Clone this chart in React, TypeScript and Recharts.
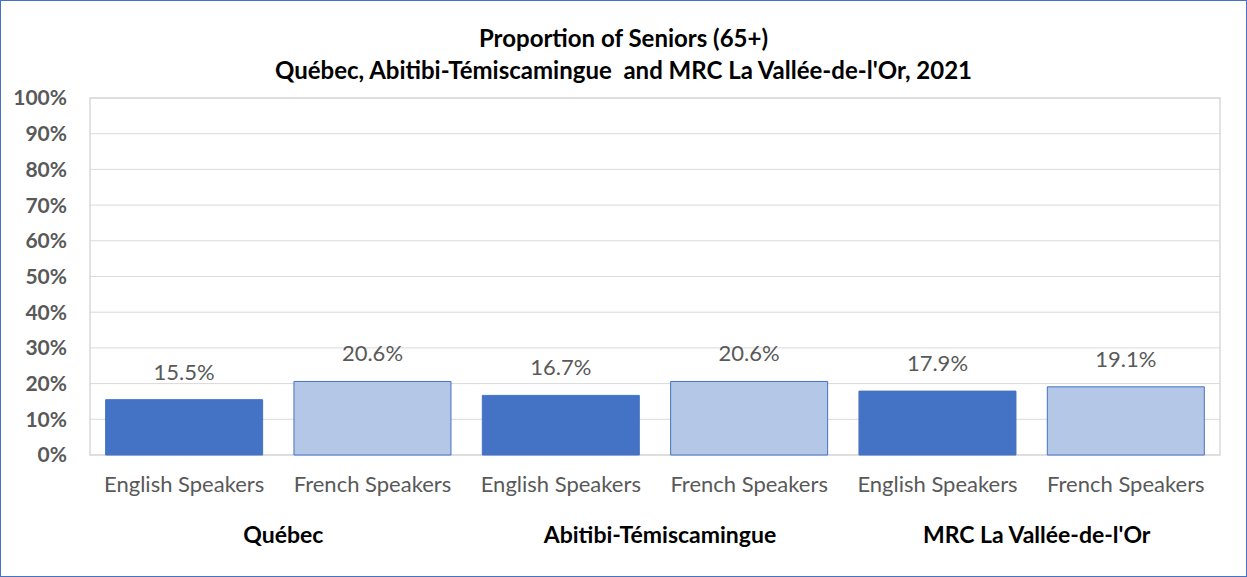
import { BarChart, Bar, XAxis, YAxis, CartesianGrid, Cell, LabelList, ReferenceArea } from 'recharts'

const regions = ['Québec', 'Abitibi-Témiscamingue', "MRC La Vallée-de-l'Or"]
const speakers = ['English Speakers', 'French Speakers']
const shares = [15.5, 20.6, 16.7, 20.6, 17.9, 19.1]
const yTicks = [0, 10, 20, 30, 40, 50, 60, 70, 80, 90, 100]

const data = shares.map((value, i) => ({
  id: i,
  speaker: speakers[i % 2],
  region: regions[Math.floor(i / 2)],
  value,
}))

const FONT = 'Lato, "Open Sans", sans-serif'
const DARK = '#4472C4'
const LIGHT = '#B4C7E7'

function GroupTick(props: any) {
  const { x, y, payload, index } = props
  if (index % 2 !== 0) return null
  return (
    <text
      x={x + (payload.offset ?? 0) + 5}
      y={y}
      dy="0.71em"
      textAnchor="middle"
      fontFamily={FONT}
      fontSize={23}
      fontWeight={700}
      fill="#000"
    >
      {payload.value}
    </text>
  )
}

export default function App() {
  return (
    <div
      style={{
        position: 'fixed',
        top: 0,
        left: 0,
        width: 1247,
        height: 577,
        boxSizing: 'border-box',
        border: `1px solid ${DARK}`,
        background: '#fff',
        fontFamily: FONT,
      }}
    >
      <div
        style={{
          position: 'absolute',
          top: 21,
          left: 0,
          width: 1245,
          textAlign: 'center',
          fontWeight: 700,
          fontSize: 24,
          lineHeight: '32px',
          color: '#000',
        }}
      >
        <div>Proportion of Seniors (65+)</div>
        <div>Québec, Abitibi-Témiscamingue&nbsp; and MRC La Vallée-de-l'Or, 2021</div>
      </div>
      <BarChart
        width={1245}
        height={575}
        data={data}
        margin={{ top: 97, right: 26, left: 0, bottom: 21 }}
        barCategoryGap="8.3%"
      >
        <CartesianGrid stroke="#d9d9d9" vertical={false} />
        <ReferenceArea y1={0} y2={100} fill="none" stroke="#d9d9d9" strokeWidth={1.5} />
        <XAxis
          dataKey="speaker"
          axisLine={false}
          tickLine={false}
          height={50}
          tickMargin={15}
          interval={0}
          tick={{ fontSize: 22, fill: '#595959', fontFamily: FONT }}
        />
        <XAxis
          xAxisId="group"
          dataKey="region"
          axisLine={false}
          tickLine={false}
          height={50}
          tickMargin={16}
          interval={0}
          tick={<GroupTick />}
        />
        <YAxis
          width={89}
          domain={[0, 100]}
          ticks={yTicks}
          axisLine={false}
          tickLine={false}
          tickMargin={17}
          tickFormatter={(v: number) => `${v}%`}
          tick={{ fontSize: 21, fill: '#595959', fontWeight: 700, fontFamily: FONT }}
        />
        <Bar dataKey="value" isAnimationActive={false} stroke={DARK} strokeWidth={1}>
          {data.map((d) => (
            <Cell key={d.id} fill={d.id % 2 === 0 ? DARK : LIGHT} />
          ))}
          <LabelList
            dataKey="value"
            position="top"
            offset={20}
            formatter={(v: any) => `${Number(v).toFixed(1)}%`}
            style={{ fontSize: 22, fill: '#595959', fontFamily: FONT }}
          />
        </Bar>
      </BarChart>
    </div>
  )
}
